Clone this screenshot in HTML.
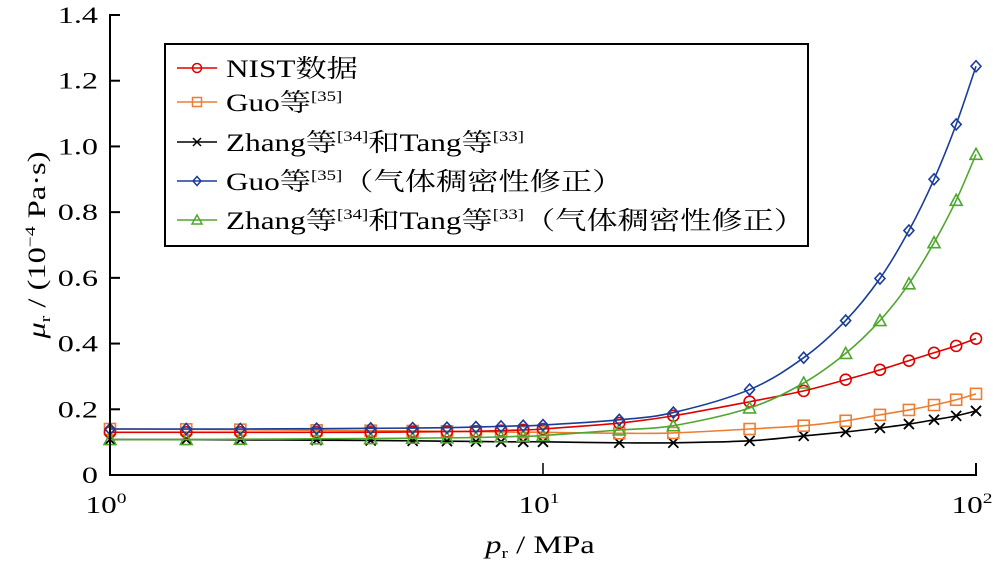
<!DOCTYPE html>
<html><head><meta charset="utf-8"><style>
html,body{margin:0;padding:0;background:#fff;}
svg{display:block;}
text{font-family:"Liberation Serif","Noto Serif CJK SC","Noto Sans CJK SC",serif;fill:#000;}
</style></head><body>
<svg id="chart" width="1000" height="565" viewBox="0 0 1000 565" xmlns="http://www.w3.org/2000/svg">
<g id="plot"></g>
<g id="axes"></g>
<g id="legend"></g>
</svg>
<script>
const pressures=[1,1.5,2,3,4,5,6,7,8,9,10,15,20,30,40,50,60,70,80,90,100];
const nistValues=[0.13,0.13,0.13,0.13,0.13,0.131,0.132,0.133,0.135,0.137,0.14,0.158,0.18,0.223,0.256,0.29,0.32,0.348,0.372,0.393,0.415];
const guoValues=[0.14,0.139,0.138,0.136,0.135,0.134,0.133,0.132,0.131,0.13,0.13,0.127,0.128,0.14,0.15,0.165,0.183,0.198,0.213,0.229,0.247];
const zhangValues=[0.108,0.108,0.107,0.106,0.105,0.104,0.103,0.102,0.101,0.101,0.101,0.098,0.098,0.104,0.119,0.131,0.143,0.155,0.168,0.18,0.195];
const guoCorrValues=[0.14,0.14,0.14,0.141,0.142,0.143,0.144,0.146,0.148,0.15,0.152,0.168,0.19,0.26,0.357,0.47,0.598,0.744,0.9,1.067,1.244];
const zhangCorrValues=[0.108,0.108,0.109,0.11,0.111,0.112,0.113,0.114,0.116,0.118,0.12,0.137,0.15,0.204,0.28,0.37,0.47,0.582,0.707,0.836,0.976];
const yTicks=[0,0.2,0.4,0.6,0.8,1.0,1.2,1.4];
const yTickLabels=["0","0.2","0.4","0.6","0.8","1.0","1.2","1.4"];
const xTicks=[1,10,100];
const xTickExps=["0","1","2"];

const NS="http://www.w3.org/2000/svg";
const X0=110,X1=976,Y0=475,Y1=15;
function xs(v){return X0+(Math.log10(v)-0)/2*(X1-X0);}
function ys(v){return Y0-(v/1.4)*(Y0-Y1);}
function mk(tag,attrs,parent){const e=document.createElementNS(NS,tag);for(const k in attrs)e.setAttribute(k,attrs[k]);parent.appendChild(e);return e;}
const plot=document.getElementById('plot'),axes=document.getElementById('axes'),legend=document.getElementById('legend');

function smoothPath(pts){
  let d="M"+pts[0][0]+","+pts[0][1];
  for(let i=0;i<pts.length-1;i++){
    const p0=pts[Math.max(0,i-1)],p1=pts[i],p2=pts[i+1],p3=pts[Math.min(pts.length-1,i+2)];
    const c1x=p1[0]+(p2[0]-p0[0])/6,c1y=p1[1]+(p2[1]-p0[1])/6;
    const c2x=p2[0]-(p3[0]-p1[0])/6,c2y=p2[1]-(p3[1]-p1[1])/6;
    d+=" C"+c1x+","+c1y+" "+c2x+","+c2y+" "+p2[0]+","+p2[1];
  }
  return d;
}
function marker(g,type,x,y,color){
  let m;
  if(type==='circle'){m=mk('circle',{cx:x,cy:y,r:5.5,fill:'none',stroke:color,'stroke-width':1.6},g);}
  else if(type==='square'){m=mk('rect',{x:x-5.5,y:y-5.5,width:11,height:11,fill:'none',stroke:color,'stroke-width':1.6},g);}
  else if(type==='cross'){m=mk('path',{d:`M${x-5},${y-5}L${x+5},${y+5}M${x-5},${y+5}L${x+5},${y-5}`,stroke:color,'stroke-width':1.8},g);}
  else if(type==='diamond'){m=mk('path',{d:`M${x},${y-5.5}L${x+5},${y}L${x},${y+5.5}L${x-5},${y}Z`,fill:'none',stroke:color,'stroke-width':1.6},g);}
  else {m=mk('path',{d:`M${x},${y-6}L${x+6},${y+5}L${x-6},${y+5}Z`,fill:'none',stroke:color,'stroke-width':1.6},g);}
  return m;
}
const series=[
 {name:'series-zhang',vals:zhangValues,color:'#000000',m:'cross'},
 {name:'series-guo',vals:guoValues,color:'#ed7d31',m:'square'},
 {name:'series-nist',vals:nistValues,color:'#e00000',m:'circle'},
 {name:'series-zhang-corrected',vals:zhangCorrValues,color:'#4ea72e',m:'triangle'},
 {name:'series-guo-corrected',vals:guoCorrValues,color:'#1a3d9a',m:'diamond'}
];
series.forEach(s=>{
  const g=mk('g',{},plot);
  
  
  const pts=pressures.map((p,i)=>[xs(p),ys(s.vals[i])]);
  const line=mk('path',{d:smoothPath(pts),fill:'none',stroke:s.color,'stroke-width':1.6},g);
  
  
  pts.forEach(p=>{
    const m=marker(g,s.m,p[0],p[1],s.color);
    
    
  });
});

// axes
const ax=mk('path',{d:`M${X0},${Y1-1}V${Y0}H${X1}V${Y0-12}`,fill:'none',stroke:'#000','stroke-width':2},axes);


yTicks.forEach((v,i)=>{
  const y=ys(v);
  const t=mk('line',{x1:X0,x2:X0+10,y1:y,y2:y,stroke:'#000','stroke-width':2},axes);
  
  
  const tx=mk('text',{transform:`translate(98,${y+8}) scale(1.4,1)`,'font-size':23,'text-anchor':'end'},axes);
  tx.textContent=yTickLabels[i];
  
  
});
xTicks.forEach((v,i)=>{
  const x=xs(v);
  const t=mk('line',{x1:x,x2:x,y1:Y0,y2:Y0-12,stroke:'#000','stroke-width':1.5},axes);
  
  
  const tx=mk('text',{transform:`translate(${x-4},${Y0+38}) scale(1.3,1)`,'font-size':24,'text-anchor':'middle'},axes);
  tx.innerHTML='10<tspan font-size="15" dy="-10">'+xTickExps[i]+'</tspan>';
  
  
});
</script>
<script>
(function(){
const NS="http://www.w3.org/2000/svg";
const axes=document.getElementById('axes');
const xl=document.createElementNS(NS,'text');
xl.setAttribute('transform','translate(540,553) scale(1.3,1)');
xl.setAttribute('font-size','25');
xl.setAttribute('text-anchor','middle');
xl.innerHTML='<tspan font-style="italic">p</tspan><tspan font-size="15" dy="5">r</tspan><tspan dy="-5"> / MPa</tspan>';


axes.appendChild(xl);
const yl=document.createElementNS(NS,'text');
yl.setAttribute('transform','translate(45,245) rotate(-90) scale(1.3,1)');
yl.setAttribute('font-size','25');
yl.setAttribute('text-anchor','middle');
yl.innerHTML='<tspan font-style="italic">μ</tspan><tspan font-size="15" dy="5">r</tspan><tspan dy="-5"> / (10</tspan><tspan font-size="15" dy="-10">−4</tspan><tspan dy="10"> Pa·s)</tspan>';


axes.appendChild(yl);

const lg=document.getElementById('legend');
const box=document.createElementNS(NS,'rect');
box.setAttribute('x','165');box.setAttribute('y','44');box.setAttribute('width','643');box.setAttribute('height','202');
box.setAttribute('fill','#fff');box.setAttribute('stroke','#000');box.setAttribute('stroke-width','2');


lg.appendChild(box);
const sup=s=>'<tspan font-size="15" dy="-10">'+s+'</tspan><tspan dy="10">';
const rows=[
 {c:'#e00000',m:'circle',h:'NIST数据'},
 {c:'#ed7d31',m:'square',h:'Guo等'+sup('[35]')+'</tspan>'},
 {c:'#000000',m:'cross',h:'Zhang等'+sup('[34]')+'和Tang等</tspan>'+sup('[33]')+'</tspan>'},
 {c:'#1a3d9a',m:'diamond',h:'Guo等'+sup('[35]')+'（气体稠密性修正）</tspan>'},
 {c:'#4ea72e',m:'triangle',h:'Zhang等'+sup('[34]')+'和Tang等</tspan>'+sup('[33]')+'（气体稠密性修正）</tspan>'}
];
const ry=[68,102,142,181,220];
rows.forEach((r,i)=>{
  const g=document.createElementNS(NS,'g');
  
  
  lg.appendChild(g);
  const y=ry[i];
  const l=document.createElementNS(NS,'line');
  l.setAttribute('x1','177');l.setAttribute('x2','217');l.setAttribute('y1',y);l.setAttribute('y2',y);
  l.setAttribute('stroke',r.c);l.setAttribute('stroke-width','1.6');
  g.appendChild(l);
  let m=document.createElementNS(NS,r.m==='circle'?'circle':(r.m==='square'?'rect':'path'));
  const x=197;
  if(r.m==='circle'){m.setAttribute('cx',x);m.setAttribute('cy',y);m.setAttribute('r','4.5');}
  else if(r.m==='square'){m.setAttribute('x',x-4.5);m.setAttribute('y',y-4.5);m.setAttribute('width','9');m.setAttribute('height','9');}
  else if(r.m==='cross'){m.setAttribute('d',`M${x-4},${y-4}L${x+4},${y+4}M${x-4},${y+4}L${x+4},${y-4}`);}
  else if(r.m==='diamond'){m.setAttribute('d',`M${x},${y-4.5}L${x+4},${y}L${x},${y+4.5}L${x-4},${y}Z`);}
  else {m.setAttribute('d',`M${x},${y-5}L${x+5},${y+4}L${x-5},${y+4}Z`);}
  m.setAttribute('fill','none');m.setAttribute('stroke',r.c);m.setAttribute('stroke-width','1.5');
  g.appendChild(m);
  const t=document.createElementNS(NS,'text');
  t.setAttribute('transform',`translate(226,${y+9}) scale(1.25,1)`);
  t.setAttribute('font-size','25');
  t.innerHTML=r.h;
  g.appendChild(t);
});
})();
</script>
</body></html>
